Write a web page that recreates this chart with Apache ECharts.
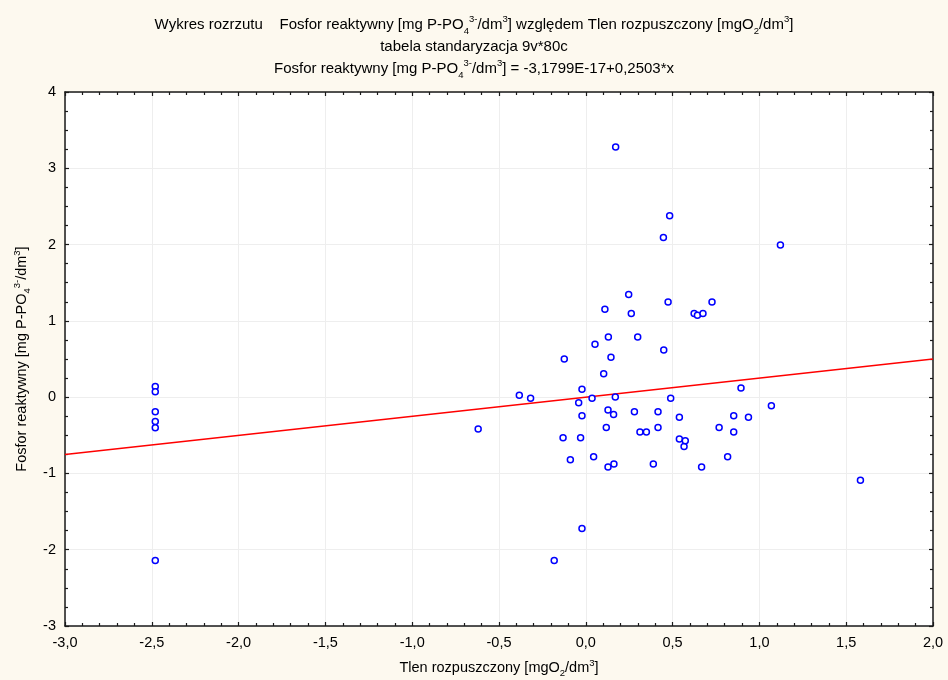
<!DOCTYPE html>
<html><head><meta charset="utf-8">
<script src="https://cdn.jsdelivr.net/npm/echarts@6/dist/echarts.min.js"></script>
<style>html,body{margin:0;padding:0;background:#fdf9ef}#c{width:948px;height:680px}</style>
</head><body><div id="c"></div>
<script>
// Data
const xValues = [
  -2.48, -2.48, -2.48, -2.48, -2.48, -2.48,
  -0.620, -0.383, -0.318, -0.182, -0.131, -0.124, -0.089, -0.041, -0.030, -0.022,
  -0.022, -0.022, 0.036, 0.045, 0.053, 0.103, 0.110, 0.118, 0.128, 0.128,
  0.130, 0.145, 0.160, 0.162, 0.170, 0.172, 0.247, 0.262, 0.280, 0.299,
  0.312, 0.349, 0.389, 0.416, 0.416, 0.447, 0.449, 0.474, 0.483, 0.489,
  0.539, 0.539, 0.566, 0.573, 0.624, 0.643, 0.667, 0.675, 0.727, 0.768,
  0.817, 0.852, 0.852, 0.894, 0.937, 1.069, 1.121, 1.582
];
const yValues = [
  0.14, 0.07, -0.19, -0.32, -0.40, -2.14,
  -0.419, 0.024, -0.016, -2.142, -0.532, 0.500, -0.821, -0.073, -0.532, 0.102,
  -0.244, -1.722, -0.016, -0.782, 0.693, 0.307, 1.152, -0.397, -0.169, -0.917,
  0.789, 0.522, -0.226, -0.878, 0.001, 3.278, 1.344, 1.095, -0.191, 0.789,
  -0.458, -0.458, -0.878, -0.191, -0.397, 2.092, 0.618, 1.248, 2.377, -0.016,
  -0.265, -0.550, -0.646, -0.572, 1.095, 1.073, -0.917, 1.095, 1.248, -0.397,
  -0.782, -0.244, -0.458, 0.119, -0.265, -0.113, 1.996, -1.088
];
// Regression line coefficients (from the chart's title)
const fitIntercept = -3.1799e-17;
const fitSlope = 0.2503;
// Axis ranges and tick steps
const xRange = [-3, 2];
const xStep = 0.5;
const yRange = [-3, 4];
const yStep = 1;

const FONT = '"Liberation Sans", Arial, sans-serif';
const points = xValues.map((x, i) => [x, yValues[i]]);
const fitLine = xRange.map(x => [x, fitIntercept + fitSlope * x]);

const richBase = {
  n: {fontFamily: FONT, fontSize: 15, lineHeight: 22, color: '#000', align: 'center'},
  sup: {fontFamily: FONT, fontSize: 9.5, lineHeight: 15, verticalAlign: 'top', color: '#000', align: 'center'},
  sub: {fontFamily: FONT, fontSize: 9.5, lineHeight: 16, verticalAlign: 'bottom', color: '#000', align: 'center'}
};
const richAxis = {
  n: {fontFamily: FONT, fontSize: 14.5, lineHeight: 20, color: '#000'},
  sup: {fontFamily: FONT, fontSize: 9.5, lineHeight: 13, verticalAlign: 'top', color: '#000'},
  sub: {fontFamily: FONT, fontSize: 9.5, lineHeight: 14, verticalAlign: 'bottom', color: '#000'}
};

const titleText =
  '{n|Wykres rozrzutu    Fosfor reaktywny [mg P-PO}{sub|4}{sup|3-}{n|/dm}{sup|3}{n|] względem Tlen rozpuszczony [mgO}{sub|2}{n|/dm}{sup|3}{n|]}\n' +
  '{n|tabela standaryzacja 9v*80c}\n' +
  '{n|Fosfor reaktywny [mg P-PO}{sub|4}{sup|3-}{n|/dm}{sup|3}{n|] = -3,1799E-17+0,2503*x}';
const yName = '{n|Fosfor reaktywny [mg P-PO}{sub|4}{sup|3-}{n|/dm}{sup|3}{n|]}';
const xName = '{n|Tlen rozpuszczony [mgO}{sub|2}{n|/dm}{sup|3}{n|]}';

const axisLineStyle = {color: '#1a1a1a', width: 1.5};
const tickStyle = {color: '#1a1a1a', width: 1.2};
const chart = echarts.init(document.getElementById('c'));
chart.setOption({
  backgroundColor: '#fdf9ef',
  animation: false,
  title: {
    text: titleText, left: 'center', top: 14, padding: 0,
    textStyle: {fontFamily: FONT, fontSize: 15, lineHeight: 22, fontWeight: 'normal', color: '#000', rich: richBase}
  },
  grid: {left: 65, right: 15, top: 92, bottom: 54, show: true, backgroundColor: '#fff', borderWidth: 0,
    containLabel: false, outerBoundsMode: 'none'},
  xAxis: [{
    type: 'value', min: xRange[0], max: xRange[1], interval: xStep,
    name: xName, nameLocation: 'middle', nameGap: 32,
    nameTextStyle: {rich: richAxis},
    axisLine: {onZero: false, lineStyle: axisLineStyle},
    axisTick: {inside: true, length: 4, lineStyle: tickStyle},
    minorTick: {show: true, splitNumber: 5, length: 3, lineStyle: tickStyle},
    axisLabel: {fontFamily: FONT, fontSize: 14.5, color: '#000', margin: 9,
      formatter: v => v.toFixed(1).replace('.', ',')},
    splitLine: {show: true, lineStyle: {color: '#eeeeee', width: 1}}
  }, {
    type: 'value', position: 'top', min: xRange[0], max: xRange[1], interval: xStep,
    axisLine: {onZero: false, lineStyle: axisLineStyle},
    axisTick: {inside: true, length: 4, lineStyle: tickStyle},
    minorTick: {show: true, splitNumber: 5, length: 3, lineStyle: tickStyle},
    axisLabel: {show: false}, splitLine: {show: false}
  }],
  yAxis: [{
    type: 'value', min: yRange[0], max: yRange[1], interval: yStep,
    name: yName, nameLocation: 'middle', nameGap: 28, nameRotate: 90,
    nameTextStyle: {rich: richAxis},
    axisLine: {onZero: false, lineStyle: axisLineStyle},
    axisTick: {inside: true, length: 4, lineStyle: tickStyle},
    minorTick: {show: true, splitNumber: 4, length: 3, lineStyle: tickStyle},
    axisLabel: {fontFamily: FONT, fontSize: 14.5, color: '#000', margin: 9,
      formatter: v => String(v)},
    splitLine: {show: true, lineStyle: {color: '#eeeeee', width: 1}}
  }, {
    type: 'value', position: 'right', min: yRange[0], max: yRange[1], interval: yStep,
    axisLine: {onZero: false, lineStyle: axisLineStyle},
    axisTick: {inside: true, length: 4, lineStyle: tickStyle},
    minorTick: {show: true, splitNumber: 4, length: 3, lineStyle: tickStyle},
    axisLabel: {show: false}, splitLine: {show: false}
  }],
  series: [{
    type: 'line', data: fitLine, symbol: 'none', silent: true,
    lineStyle: {color: '#ff0000', width: 1.5}, z: 2
  }, {
    type: 'scatter', data: points, symbol: 'circle', symbolSize: 6,
    itemStyle: {color: '#ffffff', borderColor: '#0000ff', borderWidth: 1.5, opacity: 1}, z: 3
  }]
});
</script></body></html>
